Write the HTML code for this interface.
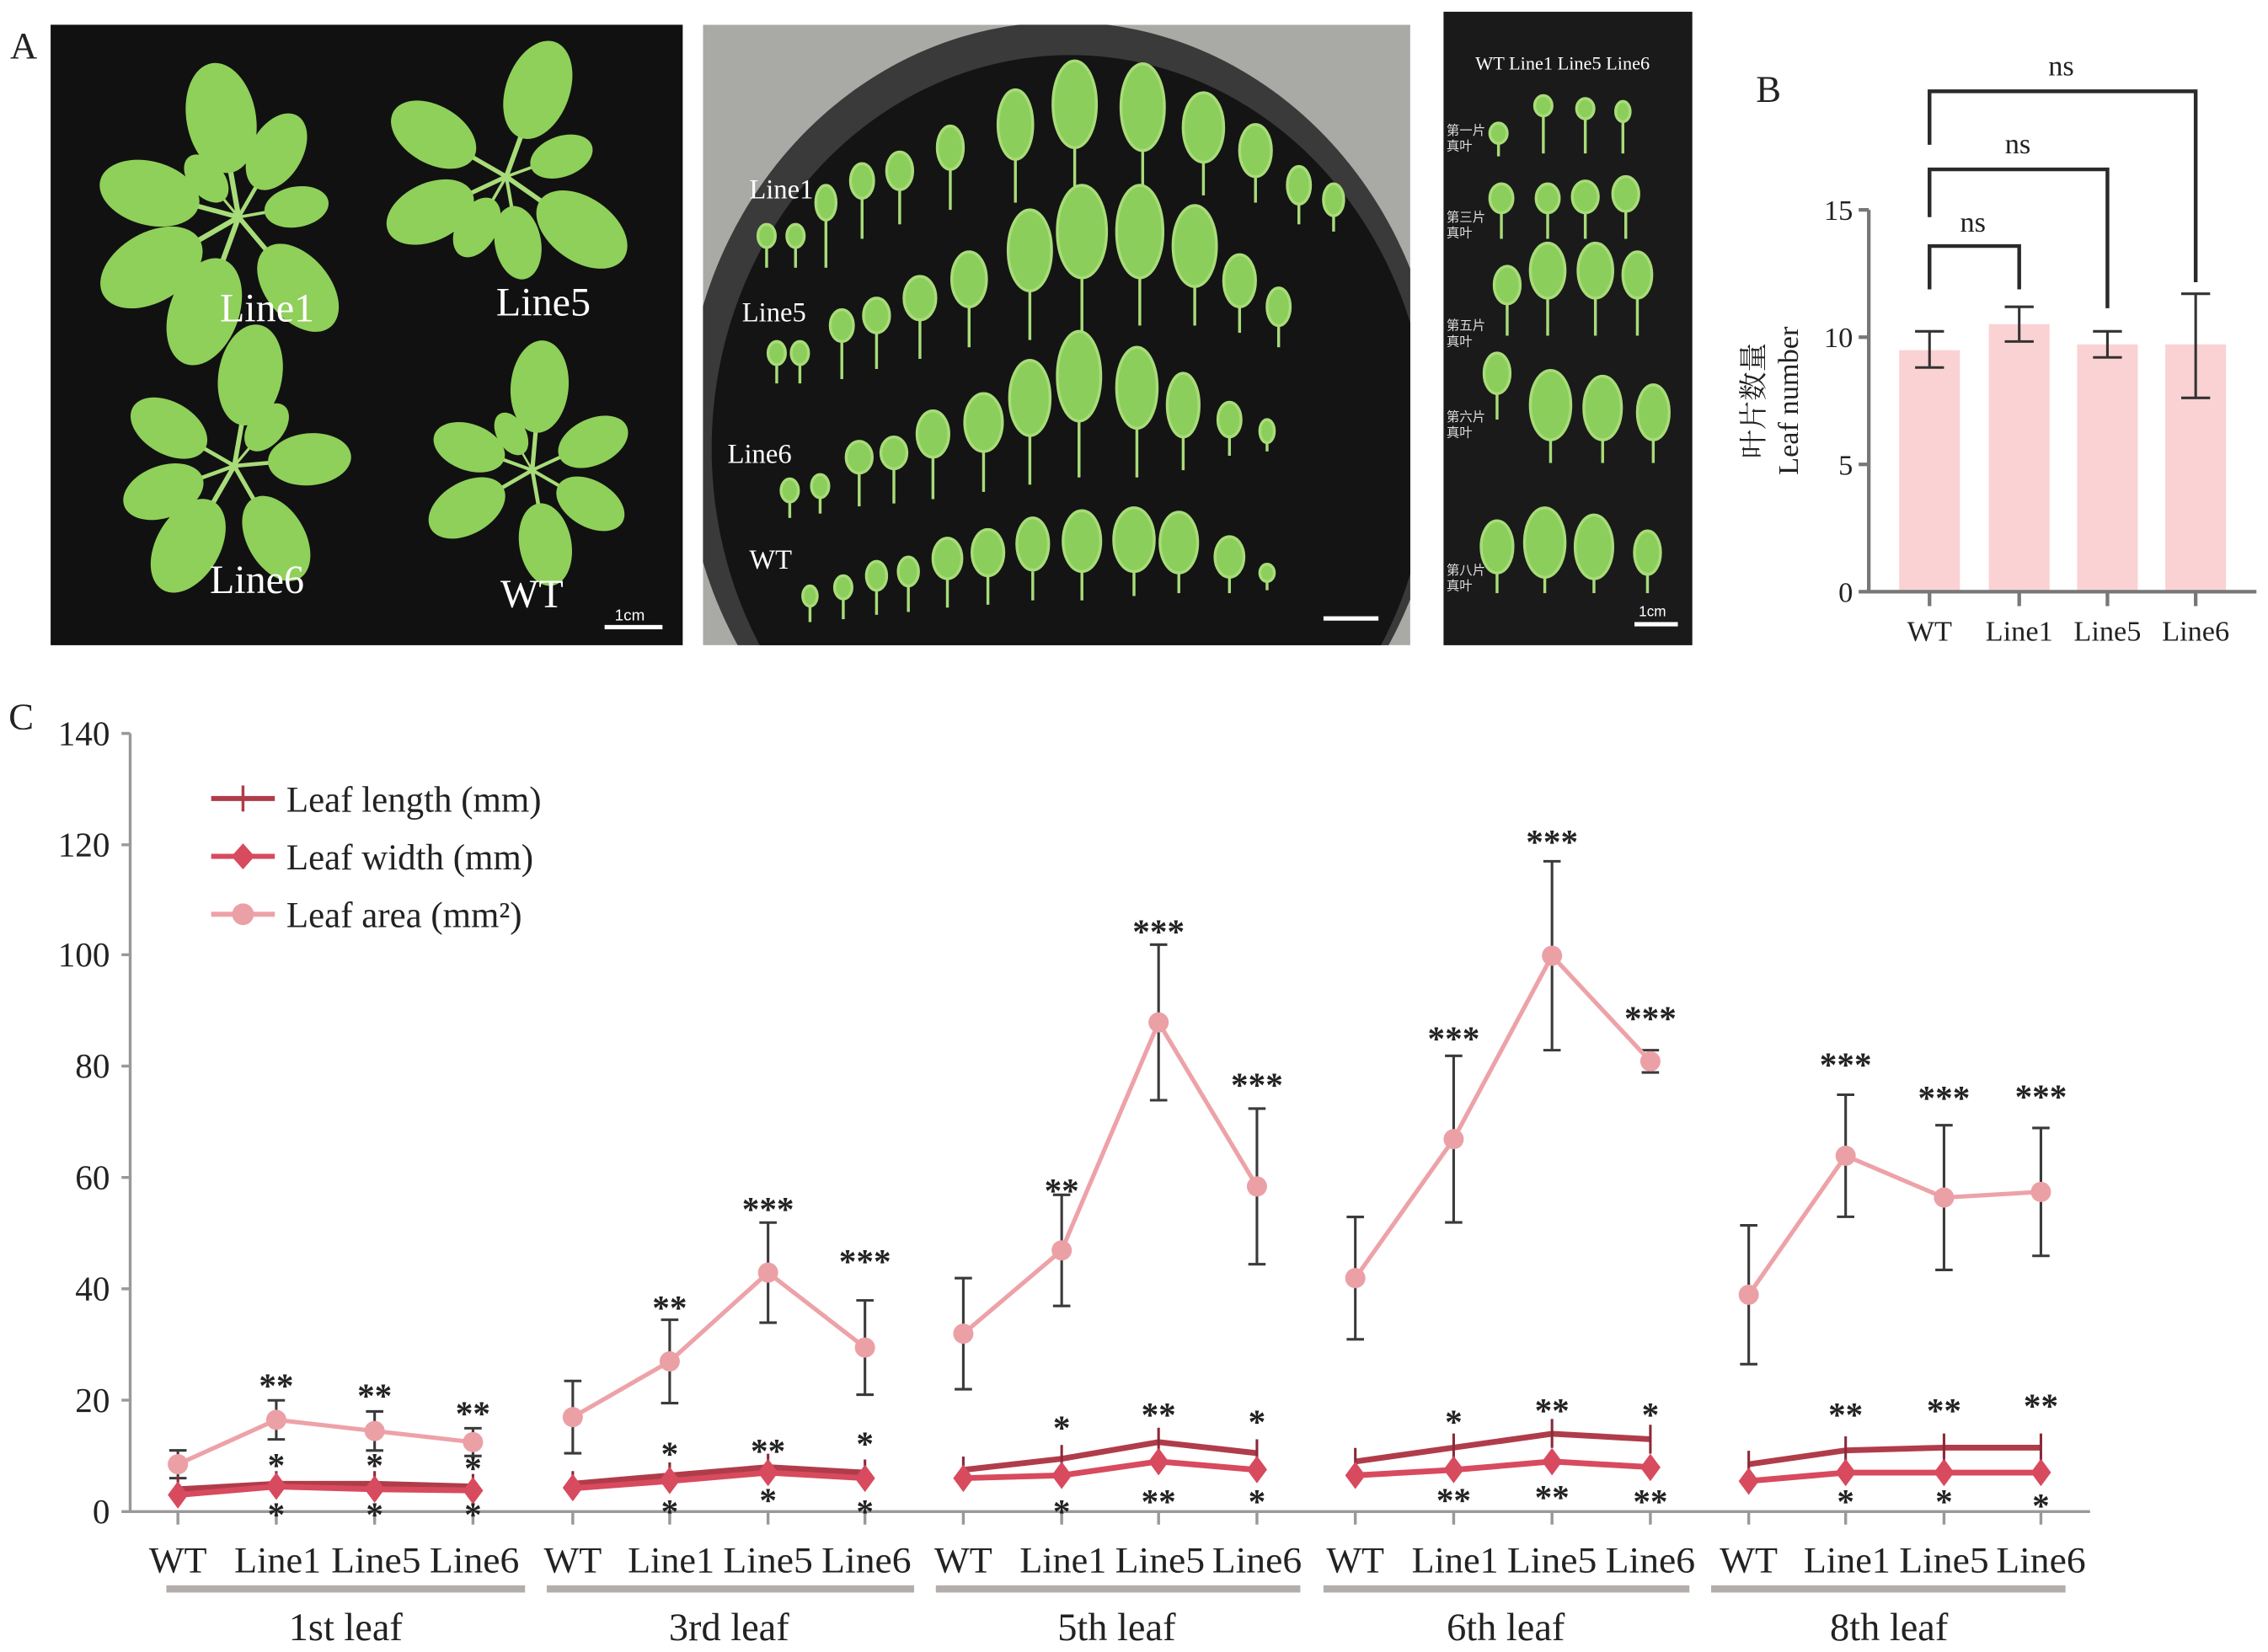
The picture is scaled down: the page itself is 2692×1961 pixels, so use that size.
<!DOCTYPE html>
<html><head><meta charset="utf-8"><style>html,body{margin:0;padding:0;background:#fff}svg{display:block}</style></head><body>
<svg width="2692" height="1961" viewBox="0 0 1568 1142" xmlns="http://www.w3.org/2000/svg" font-family="'Liberation Serif','Noto Serif CJK SC',serif">
<defs>
<g id="lf"><line x1="0" y1="0" x2="0" y2="-30" stroke="#a8dc78" stroke-width="3"/><ellipse cx="0" cy="-58" rx="20" ry="32" fill="#8fd05a"/></g>
<clipPath id="c2"><rect x="486" y="17" width="489" height="429"/></clipPath>
</defs>
<rect width="1568" height="1142" fill="#fff"/>
<!-- Photo 1 -->
<rect x="35" y="17" width="437" height="429" fill="#111"/>
<g transform="translate(165,150)"><use href="#lf" transform="rotate(-10) scale(1.2)"/><use href="#lf" transform="rotate(-75) scale(1.1)"/><use href="#lf" transform="rotate(-120) scale(1.2)"/><use href="#lf" transform="rotate(140) scale(1.1)"/><use href="#lf" transform="rotate(200) scale(1.2)"/><use href="#lf" transform="rotate(30) scale(0.9)"/><use href="#lf" transform="rotate(80) scale(0.7)"/><use href="#lf" transform="rotate(-40) scale(0.6)"/></g>
<g transform="translate(350,122)"><use href="#lf" transform="rotate(20) scale(1.1)"/><use href="#lf" transform="rotate(-60) scale(1.0)"/><use href="#lf" transform="rotate(-115) scale(1.0)"/><use href="#lf" transform="rotate(125) scale(1.1)"/><use href="#lf" transform="rotate(170) scale(0.8)"/><use href="#lf" transform="rotate(-150) scale(0.7)"/><use href="#lf" transform="rotate(70) scale(0.7)"/></g>
<g transform="translate(162,322)"><use href="#lf" transform="rotate(10) scale(1.1)"/><use href="#lf" transform="rotate(-60) scale(0.9)"/><use href="#lf" transform="rotate(-110) scale(0.9)"/><use href="#lf" transform="rotate(-150) scale(1.1)"/><use href="#lf" transform="rotate(150) scale(1.0)"/><use href="#lf" transform="rotate(85) scale(0.9)"/><use href="#lf" transform="rotate(40) scale(0.6)"/></g>
<g transform="translate(368,325)"><use href="#lf" transform="rotate(5) scale(1.0)"/><use href="#lf" transform="rotate(-70) scale(0.8)"/><use href="#lf" transform="rotate(-120) scale(0.9)"/><use href="#lf" transform="rotate(170) scale(0.9)"/><use href="#lf" transform="rotate(120) scale(0.8)"/><use href="#lf" transform="rotate(65) scale(0.8)"/><use href="#lf" transform="rotate(-30) scale(0.5)"/></g>
<g fill="#fff" font-size="28"><text x="152" y="222">Line1</text><text x="343" y="218">Line5</text><text x="145" y="410">Line6</text><text x="346" y="420">WT</text><text x="425" y="429" font-size="11" font-family="'Liberation Sans',sans-serif">1cm</text></g>
<rect x="418" y="432" width="40" height="3" fill="#fff"/>
<!-- Photo 2 -->
<g clip-path="url(#c2)">
<rect x="486" y="17" width="489" height="429" fill="#a9a9a6"/>
<ellipse cx="735" cy="300" rx="262" ry="285" fill="#3a3a3a"/>
<ellipse cx="740" cy="310" rx="248" ry="272" fill="#141414"/>
</g>
<g stroke="#a8dc78" stroke-width="2" fill="#8cce5c">
<line x1="530" y1="185" x2="530" y2="170"/><ellipse cx="530" cy="163" rx="6" ry="8"/>
<line x1="550" y1="185" x2="550" y2="170"/><ellipse cx="550" cy="163" rx="6" ry="8"/>
<line x1="571" y1="185" x2="571" y2="150"/><ellipse cx="571" cy="140" rx="7" ry="12"/>
<line x1="596" y1="165" x2="596" y2="135"/><ellipse cx="596" cy="125" rx="8" ry="12"/>
<line x1="622" y1="155" x2="622" y2="130"/><ellipse cx="622" cy="118" rx="9" ry="13"/>
<line x1="657" y1="145" x2="657" y2="115"/><ellipse cx="657" cy="102" rx="9" ry="15"/>
<line x1="702" y1="140" x2="702" y2="110"/><ellipse cx="702" cy="86" rx="12" ry="24"/>
<line x1="743" y1="130" x2="743" y2="100"/><ellipse cx="743" cy="72" rx="15" ry="30"/>
<line x1="790" y1="130" x2="790" y2="100"/><ellipse cx="790" cy="74" rx="15" ry="30"/>
<line x1="832" y1="135" x2="832" y2="110"/><ellipse cx="832" cy="88" rx="14" ry="24"/>
<line x1="868" y1="140" x2="868" y2="120"/><ellipse cx="868" cy="104" rx="11" ry="18"/>
<line x1="898" y1="155" x2="898" y2="140"/><ellipse cx="898" cy="128" rx="8" ry="13"/>
<line x1="922" y1="160" x2="922" y2="148"/><ellipse cx="922" cy="138" rx="7" ry="11"/>
<line x1="537" y1="265" x2="537" y2="250"/><ellipse cx="537" cy="244" rx="6" ry="8"/>
<line x1="553" y1="265" x2="553" y2="250"/><ellipse cx="553" cy="244" rx="6" ry="8"/>
<line x1="582" y1="262" x2="582" y2="235"/><ellipse cx="582" cy="225" rx="8" ry="11"/>
<line x1="606" y1="255" x2="606" y2="230"/><ellipse cx="606" cy="218" rx="9" ry="12"/>
<line x1="636" y1="248" x2="636" y2="220"/><ellipse cx="636" cy="206" rx="11" ry="15"/>
<line x1="670" y1="240" x2="670" y2="210"/><ellipse cx="670" cy="193" rx="12" ry="19"/>
<line x1="712" y1="235" x2="712" y2="200"/><ellipse cx="712" cy="173" rx="15" ry="28"/>
<line x1="748" y1="230" x2="748" y2="190"/><ellipse cx="748" cy="160" rx="17" ry="32"/>
<line x1="788" y1="225" x2="788" y2="190"/><ellipse cx="788" cy="160" rx="16" ry="32"/>
<line x1="826" y1="225" x2="826" y2="195"/><ellipse cx="826" cy="170" rx="15" ry="28"/>
<line x1="857" y1="230" x2="857" y2="210"/><ellipse cx="857" cy="194" rx="11" ry="18"/>
<line x1="884" y1="240" x2="884" y2="225"/><ellipse cx="884" cy="212" rx="8" ry="13"/>
<line x1="546" y1="358" x2="546" y2="345"/><ellipse cx="546" cy="339" rx="6" ry="8"/>
<line x1="567" y1="355" x2="567" y2="342"/><ellipse cx="567" cy="336" rx="6" ry="8"/>
<line x1="594" y1="350" x2="594" y2="325"/><ellipse cx="594" cy="316" rx="9" ry="11"/>
<line x1="618" y1="348" x2="618" y2="322"/><ellipse cx="618" cy="313" rx="9" ry="11"/>
<line x1="645" y1="345" x2="645" y2="315"/><ellipse cx="645" cy="300" rx="11" ry="16"/>
<line x1="680" y1="340" x2="680" y2="310"/><ellipse cx="680" cy="292" rx="13" ry="20"/>
<line x1="712" y1="335" x2="712" y2="300"/><ellipse cx="712" cy="275" rx="14" ry="26"/>
<line x1="746" y1="330" x2="746" y2="290"/><ellipse cx="746" cy="260" rx="15" ry="31"/>
<line x1="786" y1="330" x2="786" y2="295"/><ellipse cx="786" cy="268" rx="14" ry="28"/>
<line x1="818" y1="325" x2="818" y2="300"/><ellipse cx="818" cy="280" rx="11" ry="22"/>
<line x1="850" y1="315" x2="850" y2="300"/><ellipse cx="850" cy="290" rx="8" ry="12"/>
<line x1="876" y1="312" x2="876" y2="305"/><ellipse cx="876" cy="298" rx="5" ry="8"/>
<line x1="560" y1="430" x2="560" y2="418"/><ellipse cx="560" cy="412" rx="5" ry="7"/>
<line x1="583" y1="428" x2="583" y2="414"/><ellipse cx="583" cy="406" rx="6" ry="8"/>
<line x1="606" y1="425" x2="606" y2="408"/><ellipse cx="606" cy="398" rx="7" ry="10"/>
<line x1="628" y1="423" x2="628" y2="405"/><ellipse cx="628" cy="395" rx="7" ry="10"/>
<line x1="655" y1="420" x2="655" y2="400"/><ellipse cx="655" cy="386" rx="10" ry="14"/>
<line x1="683" y1="418" x2="683" y2="398"/><ellipse cx="683" cy="382" rx="11" ry="16"/>
<line x1="714" y1="415" x2="714" y2="395"/><ellipse cx="714" cy="376" rx="11" ry="18"/>
<line x1="748" y1="415" x2="748" y2="395"/><ellipse cx="748" cy="374" rx="13" ry="21"/>
<line x1="784" y1="412" x2="784" y2="395"/><ellipse cx="784" cy="373" rx="14" ry="22"/>
<line x1="815" y1="410" x2="815" y2="395"/><ellipse cx="815" cy="375" rx="13" ry="21"/>
<line x1="850" y1="410" x2="850" y2="398"/><ellipse cx="850" cy="385" rx="10" ry="14"/>
<line x1="876" y1="408" x2="876" y2="400"/><ellipse cx="876" cy="396" rx="5" ry="6"/>
</g>
<g fill="#fff" font-size="19"><text x="518" y="137">Line1</text><text x="513" y="222">Line5</text><text x="503" y="320">Line6</text><text x="518" y="393">WT</text></g>
<rect x="915" y="426" width="38" height="3" fill="#fff"/>
<!-- Photo 3 -->
<rect x="998" y="8" width="172" height="438" fill="#1a1a1a"/>
<text x="1020" y="48" fill="#fff" font-size="13">WT  Line1 Line5 Line6</text>
<g fill="#ddd" font-size="9" font-family="'Liberation Sans','Noto Sans CJK SC',sans-serif">
<text x="1000" y="93">第一片</text><text x="1000" y="104">真叶</text>
<text x="1000" y="153">第三片</text><text x="1000" y="164">真叶</text>
<text x="1000" y="228">第五片</text><text x="1000" y="239">真叶</text>
<text x="1000" y="291">第六片</text><text x="1000" y="302">真叶</text>
<text x="1000" y="397">第八片</text><text x="1000" y="408">真叶</text>
</g>
<g stroke="#a8dc78" stroke-width="2" fill="#8cce5c">
<line x1="1036" y1="108" x2="1036" y2="96"/><ellipse cx="1036" cy="92" rx="6" ry="7"/>
<line x1="1067" y1="106" x2="1067" y2="80"/><ellipse cx="1067" cy="73" rx="6" ry="7"/>
<line x1="1096" y1="106" x2="1096" y2="82"/><ellipse cx="1096" cy="75" rx="6" ry="7"/>
<line x1="1122" y1="106" x2="1122" y2="84"/><ellipse cx="1122" cy="77" rx="5" ry="7"/>
<line x1="1038" y1="165" x2="1038" y2="145"/><ellipse cx="1038" cy="137" rx="8" ry="10"/>
<line x1="1070" y1="165" x2="1070" y2="145"/><ellipse cx="1070" cy="137" rx="8" ry="10"/>
<line x1="1096" y1="165" x2="1096" y2="145"/><ellipse cx="1096" cy="136" rx="9" ry="11"/>
<line x1="1124" y1="165" x2="1124" y2="145"/><ellipse cx="1124" cy="134" rx="9" ry="12"/>
<line x1="1042" y1="232" x2="1042" y2="208"/><ellipse cx="1042" cy="197" rx="9" ry="13"/>
<line x1="1070" y1="232" x2="1070" y2="205"/><ellipse cx="1070" cy="187" rx="12" ry="19"/>
<line x1="1103" y1="232" x2="1103" y2="205"/><ellipse cx="1103" cy="187" rx="12" ry="19"/>
<line x1="1132" y1="232" x2="1132" y2="205"/><ellipse cx="1132" cy="190" rx="10" ry="16"/>
<line x1="1035" y1="290" x2="1035" y2="270"/><ellipse cx="1035" cy="258" rx="9" ry="14"/>
<line x1="1072" y1="320" x2="1072" y2="300"/><ellipse cx="1072" cy="280" rx="14" ry="24"/>
<line x1="1108" y1="320" x2="1108" y2="300"/><ellipse cx="1108" cy="282" rx="13" ry="22"/>
<line x1="1143" y1="320" x2="1143" y2="300"/><ellipse cx="1143" cy="285" rx="11" ry="19"/>
<line x1="1035" y1="410" x2="1035" y2="395"/><ellipse cx="1035" cy="378" rx="11" ry="18"/>
<line x1="1068" y1="410" x2="1068" y2="395"/><ellipse cx="1068" cy="375" rx="14" ry="24"/>
<line x1="1102" y1="410" x2="1102" y2="395"/><ellipse cx="1102" cy="378" rx="13" ry="22"/>
<line x1="1139" y1="410" x2="1139" y2="395"/><ellipse cx="1139" cy="382" rx="9" ry="15"/>
</g>
<rect x="1130" y="430" width="30" height="3" fill="#fff"/>
<text x="1133" y="426" fill="#fff" font-size="10" font-family="'Liberation Sans',sans-serif">1cm</text>
<g font-size="26" fill="#222"><text x="7" y="40">A</text><text x="1214" y="70">B</text><text x="6" y="504">C</text></g>
<!-- Panel B -->
<g fill="#fad2d3"><rect x="1313" y="242" width="42" height="167"/><rect x="1375" y="224" width="42" height="185"/><rect x="1436" y="238" width="42" height="171"/><rect x="1497" y="238" width="42" height="171"/></g>
<g stroke="#777" stroke-width="2.5" fill="none"><path d="M1292 145 V409 H1560"/><path d="M1285 145H1292M1285 233H1292M1285 321H1292M1285 409H1292M1334 409V419M1396 409V419M1457 409V419M1518 409V419"/></g>
<g stroke="#333" stroke-width="1.8"><path d="M1334 229V254M1324 229H1344M1324 254H1344M1396 212V236M1386 212H1406M1386 236H1406M1457 229V247M1447 229H1467M1447 247H1467M1518 203V275M1508 203H1528M1508 275H1528"/></g>
<g stroke="#2a2a2a" stroke-width="2.6" fill="none"><path d="M1334 100V63H1518V195"/><path d="M1334 150V117H1457V213"/><path d="M1334 200V170H1396V200"/></g>
<g font-size="20" fill="#222" text-anchor="middle"><text x="1364" y="160">ns</text><text x="1395" y="106">ns</text><text x="1425" y="52">ns</text></g>
<g font-size="20" fill="#222" text-anchor="end"><text x="1281" y="152">15</text><text x="1281" y="240">10</text><text x="1281" y="328">5</text><text x="1281" y="416">0</text></g>
<g font-size="20" fill="#222" text-anchor="middle"><text x="1334" y="443">WT</text><text x="1396" y="443">Line1</text><text x="1457" y="443">Line5</text><text x="1518" y="443">Line6</text></g>
<text transform="translate(1219,277) rotate(-90)" font-size="20" text-anchor="middle" fill="#222">叶片数量</text>
<text transform="translate(1243,277) rotate(-90)" font-size="20" text-anchor="middle" fill="#222">Leaf number</text>
<!-- Panel C axes -->
<g stroke="#999" stroke-width="2" fill="none"><path d="M90 507V1045H1445"/>
<path d="M84 507H90M84 584H90M84 660H90M84 737H90M84 814H90M84 891H90M84 968H90M84 1045H90"/>
<path d="M123 1045v9M191 1045v9M259 1045v9M327 1045v9M396 1045v9M463 1045v9M531 1045v9M598 1045v9M666 1045v9M734 1045v9M801 1045v9M869 1045v9M937 1045v9M1005 1045v9M1073 1045v9M1141 1045v9M1209 1045v9M1276 1045v9M1344 1045v9M1411 1045v9"/></g>
<g font-size="24" fill="#222" text-anchor="end"><text x="76" y="515">140</text><text x="76" y="592">120</text><text x="76" y="668">100</text><text x="76" y="745">80</text><text x="76" y="822">60</text><text x="76" y="899">40</text><text x="76" y="976">20</text><text x="76" y="1053">0</text></g>
<g stroke="#3a3a3a" stroke-width="1.8"><path d="M123 1002.7V1021.9M191 968.1V995.1M259 975.8V1002.8M327 987.4V1006.6M396 954.7V1004.7M463 912.4V970M531 845.2V914.4M598 899V964.2M666 883.6V960.4M734 826V902.8M801 653V760.6M869 766.4V874M937 841.3V925.9M1005 729.9V845.1M1073 595.4V726M1141 726V741.4M1209 847.1V943.1M1276 756.8V841.2M1344 777.9V877.9M1411 779.8V868.2"/>
<path d="M117 1002.7h12M117 1021.9h12M185 968.1h12M185 995.1h12M253 975.8h12M253 1002.8h12M321 987.4h12M321 1006.6h12M390 954.7h12M390 1004.7h12M457 912.4h12M457 970h12M525 845.2h12M525 914.4h12M592 899h12M592 964.2h12M660 883.6h12M660 960.4h12M728 826h12M728 902.8h12M795 653h12M795 760.6h12M863 766.4h12M863 874h12M931 841.3h12M931 925.9h12M999 729.9h12M999 845.1h12M1067 595.4h12M1067 726h12M1135 726h12M1135 741.4h12M1203 847.1h12M1203 943.1h12M1270 756.8h12M1270 841.2h12M1338 777.9h12M1338 877.9h12M1405 779.8h12M1405 868.2h12"/></g>
<g fill="none" stroke="#eda2a8" stroke-width="3"><polyline points="123,1012.3 191,981.6 259,989.3 327,997"/><polyline points="396,979.7 463,941.2 531,879.8 598,931.6"/><polyline points="666,922 734,864.4 801,706.8 869,820.2"/><polyline points="937,883.6 1005,787.5 1073,660.7 1141,733.7"/><polyline points="1209,895.1 1276,799 1344,827.9 1411,824"/></g>
<g fill="#eba0a6"><circle cx="123" cy="1012.3" r="7"/><circle cx="191" cy="981.6" r="7"/><circle cx="259" cy="989.3" r="7"/><circle cx="327" cy="997" r="7"/><circle cx="396" cy="979.7" r="7"/><circle cx="463" cy="941.2" r="7"/><circle cx="531" cy="879.8" r="7"/><circle cx="598" cy="931.6" r="7"/><circle cx="666" cy="922" r="7"/><circle cx="734" cy="864.4" r="7"/><circle cx="801" cy="706.8" r="7"/><circle cx="869" cy="820.2" r="7"/><circle cx="937" cy="883.6" r="7"/><circle cx="1005" cy="787.5" r="7"/><circle cx="1073" cy="660.7" r="7"/><circle cx="1141" cy="733.7" r="7"/><circle cx="1209" cy="895.1" r="7"/><circle cx="1276" cy="799" r="7"/><circle cx="1344" cy="827.9" r="7"/><circle cx="1411" cy="824" r="7"/></g>
<g fill="none" stroke="#b03c4a" stroke-width="4"><polyline points="123,1029.6 191,1025.8 259,1025.8 327,1027.7"/><polyline points="396,1025.8 463,1020 531,1014.3 598,1018.1"/><polyline points="666,1016.2 734,1008.5 801,997 869,1004.6"/><polyline points="937,1010.4 1005,1000.8 1073,991.2 1141,995"/><polyline points="1209,1012.3 1276,1002.7 1344,1000.8 1411,1000.8"/></g>
<g stroke="#8a2a38" stroke-width="1.8"><path d="M123 1021v17M191 1017v17M259 1017v17M327 1019v17M396 1017v17M463 1011v17M531 1005v18M598 1009v18M666 1007v18M734 999v19M801 987v20M869 995v19M937 1001v19M1005 991v20M1073 981v20M1141 985v20M1209 1003v19M1276 993v20M1344 991v20M1411 991v20"/></g>
<g fill="none" stroke="#d84a5e" stroke-width="4"><polyline points="123,1033.5 191,1027.7 259,1029.6 327,1030.4"/><polyline points="396,1028.9 463,1023.9 531,1018.1 598,1021.9"/><polyline points="666,1021.9 734,1020 801,1010.4 869,1016.2"/><polyline points="937,1020 1005,1016.2 1073,1010.4 1141,1014.3"/><polyline points="1209,1023.9 1276,1018.1 1344,1018.1 1411,1018.1"/></g>
<g fill="#d84a5e">
<path d="M123 1024l7 9.5-7 9.5-7-9.5z"/><path d="M191 1018l7 9.5-7 9.5-7-9.5z"/><path d="M259 1020l7 9.5-7 9.5-7-9.5z"/><path d="M327 1021l7 9.5-7 9.5-7-9.5z"/>
<path d="M396 1019l7 9.5-7 9.5-7-9.5z"/><path d="M463 1014l7 9.5-7 9.5-7-9.5z"/><path d="M531 1008.5l7 9.5-7 9.5-7-9.5z"/><path d="M598 1012.5l7 9.5-7 9.5-7-9.5z"/>
<path d="M666 1012.5l7 9.5-7 9.5-7-9.5z"/><path d="M734 1010.5l7 9.5-7 9.5-7-9.5z"/><path d="M801 1001l7 9.5-7 9.5-7-9.5z"/><path d="M869 1006.5l7 9.5-7 9.5-7-9.5z"/>
<path d="M937 1010.5l7 9.5-7 9.5-7-9.5z"/><path d="M1005 1006.5l7 9.5-7 9.5-7-9.5z"/><path d="M1073 1001l7 9.5-7 9.5-7-9.5z"/><path d="M1141 1005l7 9.5-7 9.5-7-9.5z"/>
<path d="M1209 1014.5l7 9.5-7 9.5-7-9.5z"/><path d="M1276 1008.5l7 9.5-7 9.5-7-9.5z"/><path d="M1344 1008.5l7 9.5-7 9.5-7-9.5z"/><path d="M1411 1008.5l7 9.5-7 9.5-7-9.5z"/>
</g>
<g font-size="24" fill="#222" text-anchor="middle" font-weight="bold">
<text x="191" y="966">**</text><text x="259" y="973">**</text><text x="327" y="985">**</text>
<text x="463" y="912">**</text><text x="531" y="844">***</text><text x="598" y="880">***</text>
<text x="734" y="831">**</text><text x="801" y="652">***</text><text x="869" y="758">***</text>
<text x="1005" y="726">***</text><text x="1073" y="590">***</text><text x="1141" y="712">***</text>
<text x="1276" y="744">***</text><text x="1344" y="767">***</text><text x="1411" y="766">***</text>
<text x="191" y="1021">*</text><text x="259" y="1021">*</text><text x="327" y="1023">*</text>
<text x="191" y="1055">*</text><text x="259" y="1055">*</text><text x="327" y="1055">*</text>
<text x="463" y="1013">*</text><text x="531" y="1011">**</text><text x="598" y="1006">*</text>
<text x="463" y="1053">*</text><text x="531" y="1045">*</text><text x="598" y="1053">*</text>
<text x="734" y="995">*</text><text x="801" y="986">**</text><text x="869" y="991">*</text>
<text x="734" y="1053">*</text><text x="801" y="1046">**</text><text x="869" y="1046">*</text>
<text x="1005" y="991">*</text><text x="1073" y="983">**</text><text x="1141" y="986">*</text>
<text x="1005" y="1045">**</text><text x="1073" y="1043">**</text><text x="1141" y="1046">**</text>
<text x="1276" y="986">**</text><text x="1344" y="983">**</text><text x="1411" y="980">**</text>
<text x="1276" y="1046">*</text><text x="1344" y="1046">*</text><text x="1411" y="1049">*</text>
</g>
<g stroke-width="3.5"><line x1="146" y1="552" x2="190" y2="552" stroke="#b03c4a"/><line x1="168" y1="543" x2="168" y2="561" stroke="#b03c4a" stroke-width="2"/>
<line x1="146" y1="592" x2="190" y2="592" stroke="#d84a5e"/><line x1="146" y1="632" x2="190" y2="632" stroke="#eda2a8"/></g>
<path d="M168 583l8 9-8 9-8-9z" fill="#d84a5e"/><circle cx="168" cy="632" r="7.5" fill="#eba0a6"/>
<g font-size="25" fill="#222"><text x="198" y="561">Leaf length (mm)</text><text x="198" y="601">Leaf width (mm)</text><text x="198" y="641">Leaf area (mm²)</text></g>
<g font-size="25" fill="#222" text-anchor="middle">
<text x="123" y="1087" textLength="40" lengthAdjust="spacingAndGlyphs">WT</text><text x="192" y="1087" textLength="60" lengthAdjust="spacingAndGlyphs">Line1</text><text x="260" y="1087" textLength="62" lengthAdjust="spacingAndGlyphs">Line5</text><text x="328" y="1087" textLength="62" lengthAdjust="spacingAndGlyphs">Line6</text>
<text x="396" y="1087" textLength="40" lengthAdjust="spacingAndGlyphs">WT</text><text x="464" y="1087" textLength="60" lengthAdjust="spacingAndGlyphs">Line1</text><text x="531" y="1087" textLength="62" lengthAdjust="spacingAndGlyphs">Line5</text><text x="599" y="1087" textLength="62" lengthAdjust="spacingAndGlyphs">Line6</text>
<text x="666" y="1087" textLength="40" lengthAdjust="spacingAndGlyphs">WT</text><text x="735" y="1087" textLength="60" lengthAdjust="spacingAndGlyphs">Line1</text><text x="802" y="1087" textLength="62" lengthAdjust="spacingAndGlyphs">Line5</text><text x="869" y="1087" textLength="62" lengthAdjust="spacingAndGlyphs">Line6</text>
<text x="937" y="1087" textLength="40" lengthAdjust="spacingAndGlyphs">WT</text><text x="1006" y="1087" textLength="60" lengthAdjust="spacingAndGlyphs">Line1</text><text x="1073" y="1087" textLength="62" lengthAdjust="spacingAndGlyphs">Line5</text><text x="1141" y="1087" textLength="62" lengthAdjust="spacingAndGlyphs">Line6</text>
<text x="1209" y="1087" textLength="40" lengthAdjust="spacingAndGlyphs">WT</text><text x="1277" y="1087" textLength="60" lengthAdjust="spacingAndGlyphs">Line1</text><text x="1344" y="1087" textLength="62" lengthAdjust="spacingAndGlyphs">Line5</text><text x="1411" y="1087" textLength="62" lengthAdjust="spacingAndGlyphs">Line6</text>
</g>
<g fill="#b3aeab"><rect x="115" y="1096" width="248" height="5"/><rect x="378" y="1096" width="254" height="5"/><rect x="647" y="1096" width="252" height="5"/><rect x="915" y="1096" width="253" height="5"/><rect x="1183" y="1096" width="245" height="5"/></g>
<g font-size="27" fill="#222" text-anchor="middle"><text x="239" y="1134">1st leaf</text><text x="504" y="1134">3rd leaf</text><text x="772" y="1134">5th leaf</text><text x="1041" y="1134">6th leaf</text><text x="1306" y="1134">8th leaf</text></g>
</svg>
</body></html>
